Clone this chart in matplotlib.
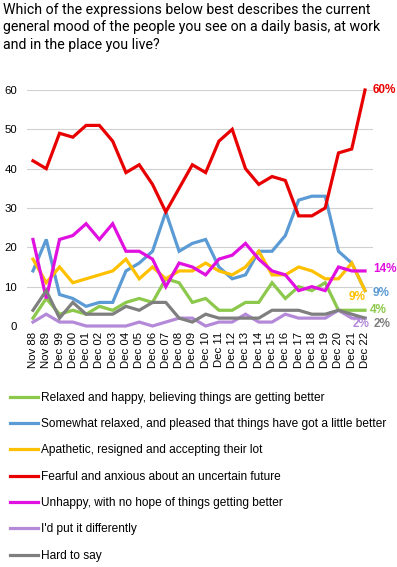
import matplotlib
matplotlib.use("Agg")
import matplotlib.pyplot as plt
import numpy as np

# survey waves
waves = ["Nov 88", "Nov 89"] + ["Dec %02d" % (y % 100) for y in range(1999, 2023)]

relaxed_happy = [2, 7, 3, 4, 3, 5, 4, 6, 7, 6, 12, 11, 6, 7, 4, 4, 6, 6, 11, 7, 10, 9, 11, 4, 4, 4]
somewhat_relaxed = [14, 22, 8, 7, 5, 6, 6, 14, 16, 19, 29, 19, 21, 22, 15, 12, 13, 19, 19, 23, 32, 33, 33, 19, 16, 9]
apathetic = [17, 11, 15, 11, 12, 13, 14, 17, 12, 15, 12, 14, 14, 16, 14, 13, 15, 19, 13, 13, 15, 14, 12, 12, 16, 9]
fearful = [42, 40, 49, 48, 51, 51, 47, 39, 41, 36, 29, 35, 41, 39, 47, 50, 40, 36, 38, 37, 28, 28, 30, 44, 45, 60]
unhappy = [22, 7, 22, 23, 26, 22, 26, 19, 19, 17, 10, 16, 15, 13, 17, 18, 21, 17, 14, 13, 9, 10, 9, 15, 14, 14]
differently = [1, 3, 1, 1, 0, 0, 0, 0, 1, 0, 1, 2, 2, 0, 1, 1, 3, 1, 1, 3, 2, 2, 2, 4, 2, 2]
hard_to_say = [4, 9, 2, 6, 3, 3, 3, 5, 4, 6, 6, 2, 1, 3, 2, 2, 2, 2, 4, 4, 4, 3, 3, 4, 3, 2]

labels = ["Relaxed and happy, believing things are getting better",
          "Somewhat relaxed, and pleased that things have got a little better",
          "Apathetic, resigned and accepting their lot",
          "Fearful and anxious about an uncertain future",
          "Unhappy, with no hope of things getting better",
          "I'd put it differently",
          "Hard to say"]
series = [relaxed_happy, somewhat_relaxed, apathetic, fearful, unhappy, differently, hard_to_say]
colors = ["#8CC84B", "#5B9BD5", "#FFC000", "#E80000", "#E010E0", "#B48AD8", "#7F7F7F"]

plt.rcParams['font.family'] = ['Liberation Sans', 'DejaVu Sans']

fig = plt.figure(figsize=(3.97, 5.67), dpi=100)
ax = fig.add_axes([27/397, (567-326)/567, 346/397, 236/567])

x = np.arange(len(waves))
for vals, lab, c in zip(series, labels, colors):
    ax.plot(x, vals, color=c, lw=2.3, label=lab, clip_on=False, solid_joinstyle='miter')

ax.set_xlim(-0.45, len(waves) - 0.4)
ax.set_ylim(0, 60)
ax.set_yticks(range(0, 61, 10))
ax.set_xticks(x)
ax.set_xticklabels(waves, rotation=90, fontsize=8.2)
ax.tick_params(axis='y', labelsize=8.2, length=0, pad=7)
ax.tick_params(axis='x', length=0, pad=4)
ax.grid(axis='y', color='#D0D0D0', lw=0.8)
ax.set_axisbelow(True)
for s in ax.spines.values():
    s.set_visible(False)

# end-of-line labels
last = len(waves) - 1
end_labels = [
    (fearful, "#E80000", (8, 0)),
    (unhappy, "#E010E0", (8, 2)),
    (somewhat_relaxed, "#5B9BD5", (8, -2)),
    (apathetic, "#FFC000", (-16, -6)),
    (relaxed_happy, "#8CC84B", (5, 0)),
    (differently, "#B48AD8", (-12, -6)),
    (hard_to_say, "#7F7F7F", (9, -6)),
]
for vals, c, off in end_labels:
    ax.annotate("%d%%" % vals[last], (last, vals[last]), xytext=off,
                textcoords='offset pixels', color=c, fontsize=8.5,
                fontweight='bold', va='center', ha='left', annotation_clip=False)

fig.text(3/397, 1 - 3/567,
         "Which of the expressions below best describes the current\n"
         "general mood of the people you see on a daily basis, at work\n"
         "and in the place you live?",
         ha='left', va='top', fontsize=10.2, family='Roboto', linespacing=1.3)

fig.legend(*ax.get_legend_handles_labels(), loc='upper left',
           bbox_to_anchor=(5/397, 1 - 387/567), frameon=False,
           fontsize=8.6, handlelength=2.4, handletextpad=0.25,
           labelspacing=1.2, borderaxespad=0)

fig.savefig("out.png", dpi=100)
